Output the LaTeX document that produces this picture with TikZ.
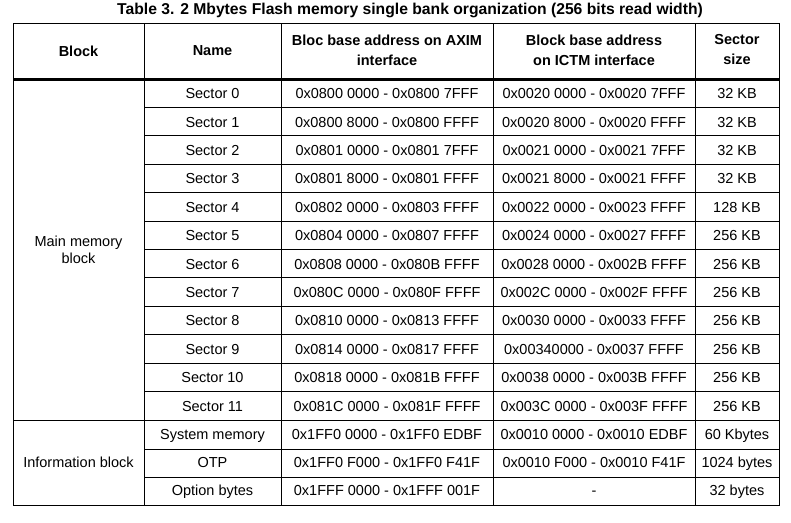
\documentclass[tikz,border=0pt]{standalone}
\usepackage{fontspec}
\setmainfont{Liberation Sans}
\begin{document}
\begin{tikzpicture}[x=1pt,y=-1pt,font=\fontsize{14.5}{17}\selectfont]
\tikzstyle{cell}=[inner sep=0pt,anchor=center,text height=14pt,text depth=3pt]
\tikzstyle{head}=[inner sep=0pt,anchor=center,font=\fontsize{14.5}{20}\selectfont\bfseries,align=center]
\tikzstyle{rule}=[line width=1pt]
\useasboundingbox (0,0) rectangle (791,522);
\node[head,font=\fontsize{15.7}{20}\selectfont\bfseries] (title) at (410,10) {Table 3. 2 Mbytes Flash memory single bank organization (256 bits read width)};
% header
\node[head] (hblock) at (78.5,51) {Block};
\node[head] (hname) at (212.5,51) {Name};
\node[head] (haxim) at (387,50) {Bloc base address on AXIM\\interface};
\node[head] (hictm) at (594,50) {Block base address\\on ICTM interface};
\node[head] (hsize) at (737,50) {Sector\\size};
% sectors
\foreach \i/\axim/\ictm/\sz in {
 0/0x0800 0000 - 0x0800 7FFF/0x0020 0000 - 0x0020 7FFF/32 KB,
 1/0x0800 8000 - 0x0800 FFFF/0x0020 8000 - 0x0020 FFFF/32 KB,
 2/0x0801 0000 - 0x0801 7FFF/0x0021 0000 - 0x0021 7FFF/32 KB,
 3/0x0801 8000 - 0x0801 FFFF/0x0021 8000 - 0x0021 FFFF/32 KB,
 4/0x0802 0000 - 0x0803 FFFF/0x0022 0000 - 0x0023 FFFF/128 KB,
 5/0x0804 0000 - 0x0807 FFFF/0x0024 0000 - 0x0027 FFFF/256 KB,
 6/0x0808 0000 - 0x080B FFFF/0x0028 0000 - 0x002B FFFF/256 KB,
 7/0x080C 0000 - 0x080F FFFF/0x002C 0000 - 0x002F FFFF/256 KB,
 8/0x0810 0000 - 0x0813 FFFF/0x0030 0000 - 0x0033 FFFF/256 KB,
 9/0x0814 0000 - 0x0817 FFFF/0x00340000 - 0x0037 FFFF/256 KB,
 10/0x0818 0000 - 0x081B FFFF/0x0038 0000 - 0x003B FFFF/256 KB,
 11/0x081C 0000 - 0x081F FFFF/0x003C 0000 - 0x003F FFFF/256 KB}{
  \pgfmathsetmacro{\y}{93.2+28.4*\i}
  \node[cell] (n\i) at (212.5,\y) {Sector \i};
  \node[cell] (a\i) at (387,\y) {\axim};
  \node[cell] (c\i) at (594,\y) {\ictm};
  \node[cell] (s\i) at (737,\y) {\sz};
  \pgfmathsetmacro{\yl}{79+28.4*(\i+1)}
  \ifnum\i<11 \draw[rule] (144,\yl) -- (779,\yl); \fi
}
\node[inner sep=0pt,align=center] (main) at (78.5,249.5) {Main memory\\block};
% information block
\node[cell] (info) at (78.5,462) {Information block};
\node[cell] (nsys) at (212.5,434) {System memory};
\node[cell] (asys) at (387,434) {0x1FF0 0000 - 0x1FF0 EDBF};
\node[cell] (csys) at (594,434) {0x0010 0000 - 0x0010 EDBF};
\node[cell] (ssys) at (737,434) {60 Kbytes};
\node[cell] (notp) at (212.5,462) {OTP};
\node[cell] (aotp) at (387,462) {0x1FF0 F000 - 0x1FF0 F41F};
\node[cell] (cotp) at (594,462) {0x0010 F000 - 0x0010 F41F};
\node[cell] (sotp) at (737,462) {1024 bytes};
\node[cell] (nopt) at (212.5,490) {Option bytes};
\node[cell] (aopt) at (387,490) {0x1FFF 0000 - 0x1FFF 001F};
\node[cell] (copt) at (594,490) {-};
\node[cell] (sopt) at (737,490) {32 bytes};
% grid
\draw[rule] (13,23) rectangle (779,505);
\draw[line width=3pt] (13,79) -- (779,79);
\draw[rule] (13,420) -- (779,420);
\draw[rule] (144,449) -- (779,449);
\draw[rule] (144,477) -- (779,477);
\foreach \x in {144,281,493,695}
  \draw[rule] (\x,23) -- (\x,505);
\end{tikzpicture}
\end{document}
